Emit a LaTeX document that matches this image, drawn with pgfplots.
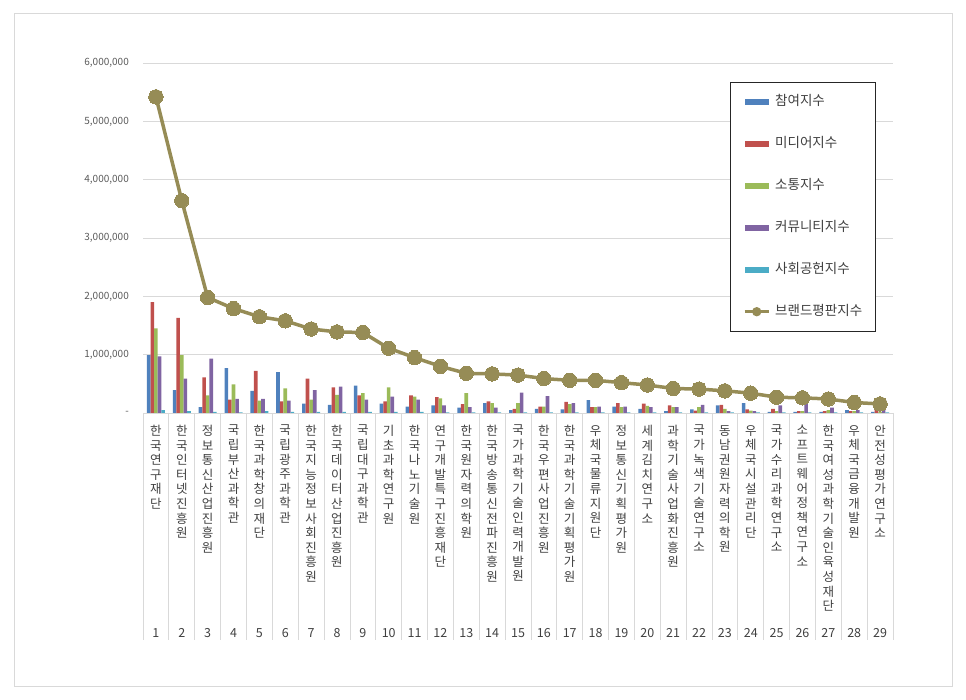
\documentclass[border=0pt]{standalone}
\usepackage{fontspec}
\setmainfont{Noto Sans CJK KR}
\usepackage{pgfplots}
\pgfplotsset{compat=1.18}
\usepackage{pgfplotstable}
\definecolor{cA}{HTML}{4F81BD}
\definecolor{cB}{HTML}{C0504D}
\definecolor{cC}{HTML}{9BBB59}
\definecolor{cD}{HTML}{8064A2}
\definecolor{cE}{HTML}{4BACC6}
\definecolor{lineC}{HTML}{968C56}
\definecolor{gridc}{HTML}{D9D9D9}
\definecolor{sepc}{HTML}{D9D9D9}
\definecolor{bordc}{HTML}{D9D9D9}
\definecolor{tickc}{HTML}{595959}
\definecolor{labc}{HTML}{404040}

\pgfplotstableread{
x a b c d e f
1 990000 1900000 1450000 970000 50000 5420000
2 390000 1630000 990000 590000 30000 3640000
3 100000 610000 300000 930000 20000 1980000
4 770000 230000 490000 240000 10000 1790000
5 380000 720000 210000 240000 30000 1650000
6 700000 200000 420000 210000 20000 1580000
7 160000 590000 230000 390000 20000 1440000
8 140000 440000 310000 450000 20000 1390000
9 470000 300000 340000 230000 20000 1380000
10 160000 200000 440000 280000 20000 1110000
11 110000 300000 280000 230000 20000 950000
12 130000 270000 250000 130000 10000 800000
13 90000 150000 340000 100000 10000 680000
14 170000 200000 170000 90000 10000 670000
15 50000 70000 170000 350000 10000 650000
16 70000 110000 110000 290000 10000 590000
17 60000 190000 150000 170000 10000 560000
18 220000 100000 100000 110000 10000 560000
19 110000 170000 100000 110000 10000 520000
20 70000 160000 120000 100000 10000 480000
21 30000 130000 100000 100000 10000 420000
22 60000 40000 100000 140000 10000 410000
23 130000 140000 70000 30000 10000 380000
24 170000 60000 40000 30000 10000 340000
25 20000 70000 30000 130000 10000 270000
26 20000 30000 30000 170000 10000 260000
27 20000 30000 50000 90000 10000 240000
28 50000 30000 30000 50000 10000 180000
29 20000 60000 20000 60000 10000 155000
}\data

\begin{document}
\begin{tikzpicture}
\path (0pt,0pt) rectangle (966pt,700pt);
\draw[bordc, line width=1pt] (14pt,13pt) rectangle (952pt,686pt);
\begin{axis}[
  at={(143pt,287pt)}, anchor=south west,
  scale only axis, width=750pt, height=350pt,
  xmin=0.5, xmax=29.5, ymin=0, ymax=6000000,
  clip=false,
  axis x line*=bottom, axis y line*=left,
  x axis line style={draw=gridc, line width=0.8pt},
  y axis line style={draw=none},
  tick style={draw=none},
  ymajorgrids, grid style={gridc, line width=0.8pt},
  scaled y ticks=false,
  ytick={0,1000000,2000000,3000000,4000000,5000000,6000000},
  yticklabels={-,{1,000,000},{2,000,000},{3,000,000},{4,000,000},{5,000,000},{6,000,000}},
  yticklabel style={font=\fontsize{10}{12}\selectfont, text=tickc, inner sep=0pt, anchor=east, xshift=-14pt},
  xtick={1,...,29},
  xticklabels={
    {한\\국\\연\\구\\재\\단},
    {한\\국\\인\\터\\넷\\진\\흥\\원},
    {정\\보\\통\\신\\산\\업\\진\\흥\\원},
    {국\\립\\부\\산\\과\\학\\관},
    {한\\국\\과\\학\\창\\의\\재\\단},
    {국\\립\\광\\주\\과\\학\\관},
    {한\\국\\지\\능\\정\\보\\사\\회\\진\\흥\\원},
    {한\\국\\데\\이\\터\\산\\업\\진\\흥\\원},
    {국\\립\\대\\구\\과\\학\\관},
    {기\\초\\과\\학\\연\\구\\원},
    {한\\국\\나\\노\\기\\술\\원},
    {연\\구\\개\\발\\특\\구\\진\\흥\\재\\단},
    {한\\국\\원\\자\\력\\의\\학\\원},
    {한\\국\\방\\송\\통\\신\\전\\파\\진\\흥\\원},
    {국\\가\\과\\학\\기\\술\\인\\력\\개\\발\\원},
    {한\\국\\우\\편\\사\\업\\진\\흥\\원},
    {한\\국\\과\\학\\기\\술\\기\\획\\평\\가\\원},
    {우\\체\\국\\물\\류\\지\\원\\단},
    {정\\보\\통\\신\\기\\획\\평\\가\\원},
    {세\\계\\김\\치\\연\\구\\소},
    {과\\학\\기\\술\\사\\업\\화\\진\\흥\\원},
    {국\\가\\녹\\색\\기\\술\\연\\구\\소},
    {동\\남\\권\\원\\자\\력\\의\\학\\원},
    {우\\체\\국\\시\\설\\관\\리\\단},
    {국\\가\\수\\리\\과\\학\\연\\구\\소},
    {소\\프\\트\\웨\\어\\정\\책\\연\\구\\소},
    {한\\국\\여\\성\\과\\학\\기\\술\\인\\육\\성\\재\\단},
    {우\\체\\국\\금\\융\\개\\발\\원},
    {안\\전\\성\\평\\가\\연\\구\\소}},
  xticklabel style={align=center, anchor=north, inner sep=0pt, yshift=-12pt,
    font=\fontsize{12.5}{14.6}\selectfont, text=labc},
  legend style={at={(0.7827,0.9457)}, anchor=north west,
    draw=black!85, fill=white, inner xsep=13pt, inner ysep=13pt, row sep=29pt,
    font=\fontsize{13.5}{14}\selectfont, text=labc,
    nodes={inner sep=0pt, text height=10pt, text depth=3pt, anchor=west},
    /tikz/every odd column/.append style={column sep=5pt}},
  legend cell align=left,
]
\addplot[ybar, bar width=3.6pt, bar shift=-7.2pt, fill=cA, draw=none,
  legend image code/.code={\fill[cA] (0pt,-3pt) rectangle (24pt,3pt);}] table[x=x,y=a]{\data};
\addlegendentry{참여지수}
\addplot[ybar, bar width=3.6pt, bar shift=-3.6pt, fill=cB, draw=none,
  legend image code/.code={\fill[cB] (0pt,-3pt) rectangle (24pt,3pt);}] table[x=x,y=b]{\data};
\addlegendentry{미디어지수}
\addplot[ybar, bar width=3.6pt, bar shift=0pt, fill=cC, draw=none,
  legend image code/.code={\fill[cC] (0pt,-3pt) rectangle (24pt,3pt);}] table[x=x,y=c]{\data};
\addlegendentry{소통지수}
\addplot[ybar, bar width=3.6pt, bar shift=3.6pt, fill=cD, draw=none,
  legend image code/.code={\fill[cD] (0pt,-3pt) rectangle (24pt,3pt);}] table[x=x,y=d]{\data};
\addlegendentry{커뮤니티지수}
\addplot[ybar, bar width=3.6pt, bar shift=7.2pt, fill=cE, draw=none,
  legend image code/.code={\fill[cE] (0pt,-3pt) rectangle (24pt,3pt);}] table[x=x,y=e]{\data};
\addlegendentry{사회공헌지수}
\addplot[sharp plot, color=lineC, line width=3.5pt, mark=*, mark size=7.2pt,
  mark options={fill=lineC, draw=lineC, line width=0pt},
  legend image code/.code={\draw[lineC, line width=3pt] (0pt,0pt) -- (24pt,0pt); \fill[lineC] (12pt,0pt) circle (2.8pt);}] table[x=x,y=f]{\data};
\addlegendentry{브랜드평판지수}
\pgfplotsinvokeforeach{0.5,1.5,...,29.5}{
  \draw[sepc, line width=0.8pt] (axis cs:#1,0) -- ++(0pt,-227pt);
}
\pgfplotsinvokeforeach{1,...,29}{
  \node[font=\fontsize{12.5}{14}\selectfont, text=labc, yshift=-220pt] at (axis cs:#1,0) {#1};
}
\end{axis}
\end{tikzpicture}
\end{document}
